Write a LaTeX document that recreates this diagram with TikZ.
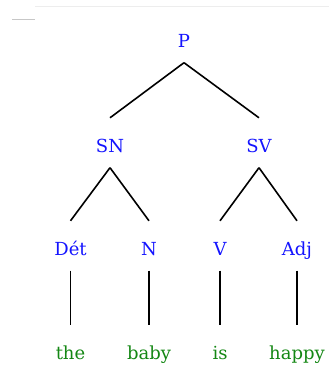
\documentclass[tikz,border=0pt]{standalone}
\usepackage{fontspec}
\setmainfont{DejaVu Serif}
\usetikzlibrary{calc}
\definecolor{catblue}{RGB}{20,20,255}
\definecolor{wordgreen}{RGB}{20,135,20}
\tikzset{
  x=1pt, y=-1pt,
  lab/.style={anchor=base, inner sep=0pt, text height=13pt, text depth=4pt, font=\fontsize{18}{21}\selectfont},
  cat/.style={lab, text=catblue},
  word/.style={lab, text=wordgreen},
  branch/.style={draw=black, line width=1.6pt}
}
\begin{document}
\begin{tikzpicture}
\useasboundingbox (0,0) rectangle (329,376);
\draw[black!7, line width=0.8pt] (35,6) -- (329,6);
\draw[black!22, line width=0.8pt] (12,19) -- (35,19);
\node[cat] (P) at (184,47) {P};
\node[cat] (SN) at (110,152) {SN};
\node[cat] (SV) at (259,152) {SV};
\node[cat] (Det) at (70.5,255) {Dét};
\node[cat] (N) at (149,255) {N};
\node[cat] (V) at (220,255) {V};
\node[cat] (Adj) at (297,255) {Adj};
\node[word] (the) at (70.5,359) {the};
\node[word] (baby) at (149,359) {baby};
\node[word] (is) at (220,359) {is};
\node[word] (happy) at (297,359) {happy};
\foreach \a/\b in {P/SN, P/SV, SN/Det, SN/N, SV/V, SV/Adj, Det/the, N/baby, V/is, Adj/happy}
  \draw[branch] ($(\a.south)+(0,11.5)$) -- ($(\b.north)+(0,-21)$);
\end{tikzpicture}
\end{document}
